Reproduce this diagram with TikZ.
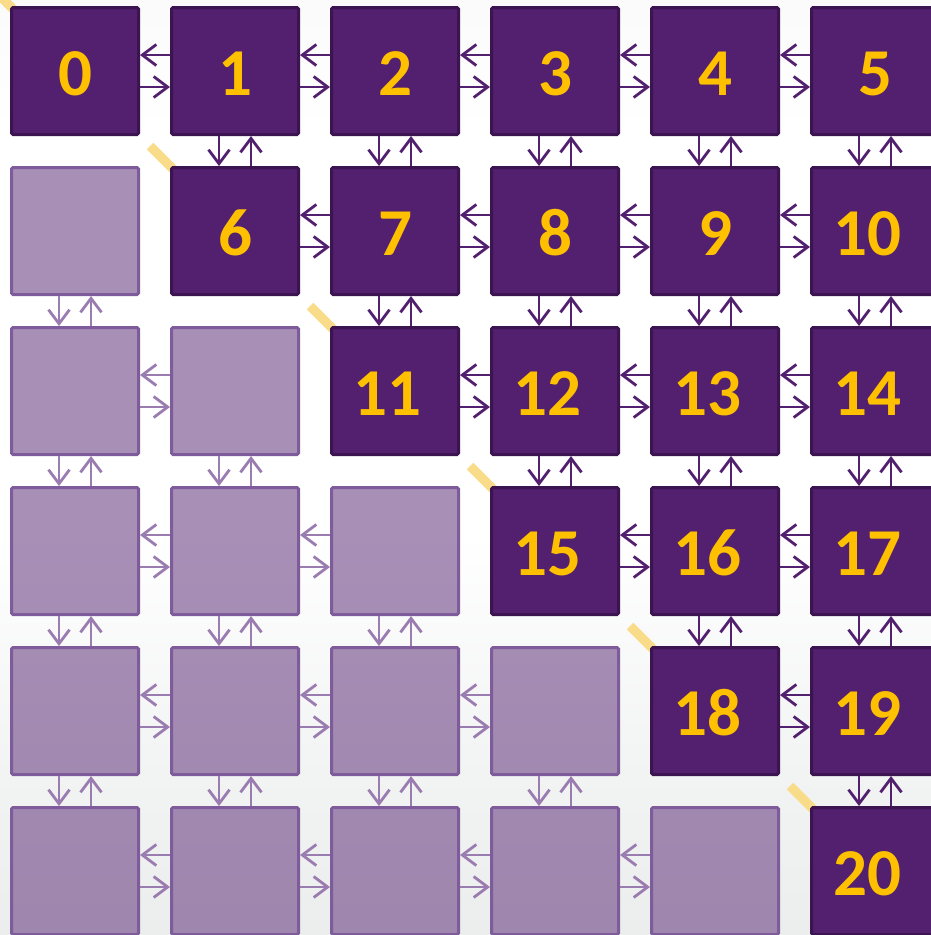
\documentclass[tikz,border=0pt]{standalone}
\usepackage{fontspec}
\setmainfont{Carlito}
\usetikzlibrary{arrows.meta}
\definecolor{pdark}{HTML}{52206F}
\definecolor{pbord}{HTML}{3B1450}
\definecolor{lbord}{HTML}{7E5B9A}
\definecolor{larrc}{HTML}{9A7CB0}
\definecolor{ymark}{HTML}{F9DC8A}
\definecolor{bgA}{HTML}{D6DADA}
\definecolor{bgB}{HTML}{E6E8E8}
\definecolor{bgC}{HTML}{F2F3F3}
\definecolor{bgD}{HTML}{F5F5F5}
\definecolor{numyellow}{HTML}{FFC000}
\pgfdeclareverticalshading{vbg}{100bp}{color(0bp)=(bgA); color(16.6bp)=(bgB); color(33.7bp)=(bgC); color(46.5bp)=(white); color(68bp)=(white); color(84bp)=(bgD); color(100bp)=(bgB)}
\newcommand\harr[3]{%
  \draw[#1] ([yshift=16pt]#3.west) -- ([yshift=16pt]#2.east);
  \draw[#1] ([yshift=-16pt]#2.east) -- ([yshift=-16pt]#3.west);}
\newcommand\varr[3]{%
  \draw[#1] ([xshift=-16pt]#2.south) -- ([xshift=-16pt]#3.north);
  \draw[#1] ([xshift=16pt]#3.north) -- ([xshift=16pt]#2.south);}
\newcommand\tw[1]{#1\hspace*{15pt}}
\begin{document}
\begin{tikzpicture}[x=1pt,y=-1pt,
  dbox/.style={draw=pbord,fill=pdark,line width=3pt,minimum size=127pt,rounded corners=1.5pt,inner sep=0pt,text=numyellow,font=\bfseries\fontsize{67}{67}\selectfont,text height=48pt,text depth=0pt},
  lbox/.style={draw=lbord,fill=pdark,fill opacity=0.5,line width=3pt,minimum size=127pt,rounded corners=1.5pt,inner sep=0pt},
  darr/.style={draw=pdark,line width=2.8pt,-{Straight Barb[length=14pt,width=21pt]}},
  larr/.style={draw=larrc,line width=2.8pt,-{Straight Barb[length=14pt,width=21pt]}},
  ymkline/.style={draw=ymark,line width=9.5pt}]
\useasboundingbox (0,0) rectangle (931,935);
\shade[shading=vbg] (0,0) rectangle (931,935);

% yellow diagonal marks (partly hidden by the diagonal squares)
\coordinate (c0) at (10,6);
\coordinate (c6) at (170,166);
\coordinate (c11) at (330,326);
\coordinate (c15) at (490,486);
\coordinate (c18) at (650,646);
\coordinate (c20) at (810,806);
\foreach \c in {c0,c6,c11,c15,c18,c20}{
  \draw[ymkline] ([shift={(-20pt,20pt)}]\c) -- ([shift={(6pt,-6pt)}]\c);
}

% dark nodes
\node[dbox] (n0) at (75,71) {0};
\node[dbox] (n1) at (235,71) {1};
\node[dbox] (n2) at (395,71) {2};
\node[dbox] (n3) at (555,71) {3};
\node[dbox] (n4) at (715,71) {4};
\node[dbox] (n5) at (875,71) {5};
\node[dbox] (n6) at (235,231) {6};
\node[dbox] (n7) at (395,231) {7};
\node[dbox] (n8) at (555,231) {8};
\node[dbox] (n9) at (715,231) {9};
\node[dbox] (n10) at (875,231) {\tw{10}};
\node[dbox] (n11) at (395,391) {\tw{11}};
\node[dbox] (n12) at (555,391) {\tw{12}};
\node[dbox] (n13) at (715,391) {\tw{13}};
\node[dbox] (n14) at (875,391) {\tw{14}};
\node[dbox] (n15) at (555,551) {\tw{15}};
\node[dbox] (n16) at (715,551) {\tw{16}};
\node[dbox] (n17) at (875,551) {\tw{17}};
\node[dbox] (n18) at (715,711) {\tw{18}};
\node[dbox] (n19) at (875,711) {\tw{19}};
\node[dbox] (n20) at (875,871) {\tw{20}};

% light nodes
\node[lbox] (l10) at (75,231) {};
\node[lbox] (l20) at (75,391) {};
\node[lbox] (l21) at (235,391) {};
\node[lbox] (l30) at (75,551) {};
\node[lbox] (l31) at (235,551) {};
\node[lbox] (l32) at (395,551) {};
\node[lbox] (l40) at (75,711) {};
\node[lbox] (l41) at (235,711) {};
\node[lbox] (l42) at (395,711) {};
\node[lbox] (l43) at (555,711) {};
\node[lbox] (l50) at (75,871) {};
\node[lbox] (l51) at (235,871) {};
\node[lbox] (l52) at (395,871) {};
\node[lbox] (l53) at (555,871) {};
\node[lbox] (l54) at (715,871) {};

% horizontal dark arrows
\harr{darr}{n0}{n1}\harr{darr}{n1}{n2}\harr{darr}{n2}{n3}\harr{darr}{n3}{n4}\harr{darr}{n4}{n5}
\harr{darr}{n6}{n7}\harr{darr}{n7}{n8}\harr{darr}{n8}{n9}\harr{darr}{n9}{n10}
\harr{darr}{n11}{n12}\harr{darr}{n12}{n13}\harr{darr}{n13}{n14}
\harr{darr}{n15}{n16}\harr{darr}{n16}{n17}
\harr{darr}{n18}{n19}
% horizontal light arrows
\harr{larr}{l20}{l21}
\harr{larr}{l30}{l31}\harr{larr}{l31}{l32}
\harr{larr}{l40}{l41}\harr{larr}{l41}{l42}\harr{larr}{l42}{l43}
\harr{larr}{l50}{l51}\harr{larr}{l51}{l52}\harr{larr}{l52}{l53}\harr{larr}{l53}{l54}
% vertical dark arrows
\varr{darr}{n1}{n6}
\varr{darr}{n2}{n7}\varr{darr}{n7}{n11}
\varr{darr}{n3}{n8}\varr{darr}{n8}{n12}\varr{darr}{n12}{n15}
\varr{darr}{n4}{n9}\varr{darr}{n9}{n13}\varr{darr}{n13}{n16}\varr{darr}{n16}{n18}
\varr{darr}{n5}{n10}\varr{darr}{n10}{n14}\varr{darr}{n14}{n17}\varr{darr}{n17}{n19}\varr{darr}{n19}{n20}
% vertical light arrows
\varr{larr}{l10}{l20}\varr{larr}{l20}{l30}\varr{larr}{l30}{l40}\varr{larr}{l40}{l50}
\varr{larr}{l21}{l31}\varr{larr}{l31}{l41}\varr{larr}{l41}{l51}
\varr{larr}{l32}{l42}\varr{larr}{l42}{l52}
\varr{larr}{l43}{l53}
\end{tikzpicture}
\end{document}
